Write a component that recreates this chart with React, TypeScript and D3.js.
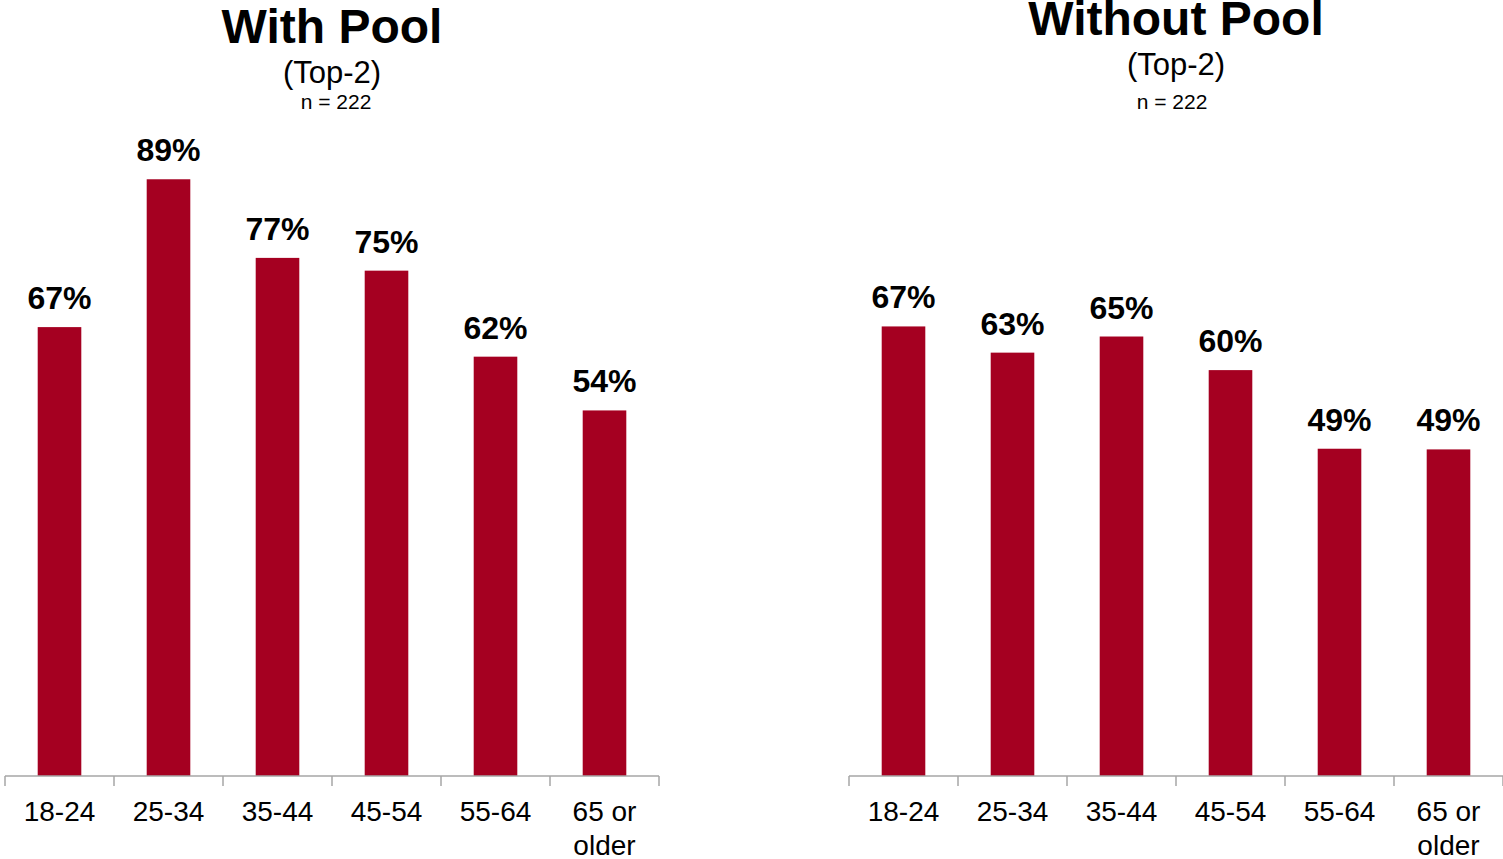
import React from "react";
import * as d3 from "d3";

const categories: string[] = ["18-24", "25-34", "35-44", "45-54", "55-64", "65 or older"];
const withPoolValues: number[] = [66.8, 88.8, 77.1, 75.2, 62.4, 54.4];
const withoutPoolValues: number[] = [66.9, 63.0, 65.4, 60.4, 48.7, 48.6];
const panelTitles: string[] = ["With Pool", "Without Pool"];
const subtitle = "(Top-2)";
const sampleNote = "n = 222";

const W = 1503;
const H = 859;
const FONT = "'Liberation Sans', Arial, Helvetica, sans-serif";
const BAR = "#a50021";
const AXIS = "#a6a6a6";

const y = d3.scaleLinear().domain([0, 100]).range([776, 104]);

type PanelProps = {
  x0: number;
  x1: number;
  values: number[];
  title: string;
  titleY: number;
  subY: number;
  nY: number;
  nShift: number;
};

function Panel({ x0, x1, values, title, titleY, subY, nY, nShift }: PanelProps) {
  const x = d3.scaleBand<string>().domain(categories).range([x0, x1]).padding(0);
  const bw = x.bandwidth();
  const cx = (x0 + x1) / 2;
  const boundaries = categories.map((c) => x(c) as number).concat([x1]);
  return (
    <g>
      <text x={cx} y={titleY} textAnchor="middle" fontFamily={FONT} fontWeight="bold" fontSize={48} fill="#000">
        {title}
      </text>
      <text x={cx} y={subY} textAnchor="middle" fontFamily={FONT} fontSize={31} fill="#000">
        {subtitle}
      </text>
      <text x={cx + nShift} y={nY} textAnchor="middle" fontFamily={FONT} fontSize={21} fill="#000">
        {sampleNote}
      </text>
      {categories.map((c, i) => {
        const bx = (x(c) as number) + bw * 0.3;
        const top = y(values[i]);
        return (
          <g key={c}>
            <rect x={bx} y={top} width={bw * 0.4} height={y(0) - top} fill={BAR} />
            <text
              x={(x(c) as number) + bw / 2}
              y={top - 18}
              textAnchor="middle"
              fontFamily={FONT}
              fontWeight="bold"
              fontSize={32}
              fill="#000"
            >
              {`${Math.round(values[i])}%`}
            </text>
          </g>
        );
      })}
      <line x1={x0} x2={x1} y1={y(0)} y2={y(0)} stroke={AXIS} strokeWidth={1.5} />
      {boundaries.map((bx, i) => (
        <line key={i} x1={bx} x2={bx} y1={y(0)} y2={y(0) + 10} stroke={AXIS} strokeWidth={1.5} />
      ))}
      {categories.map((c) => {
        const words = c === "65 or older" ? ["65 or", "older"] : [c];
        return (
          <text
            key={c}
            x={(x(c) as number) + bw / 2}
            y={821}
            textAnchor="middle"
            fontFamily={FONT}
            fontSize={28}
            fill="#000"
          >
            {words.map((w, k) => (
              <tspan key={k} x={(x(c) as number) + bw / 2} dy={k === 0 ? 0 : 34}>
                {w}
              </tspan>
            ))}
          </text>
        );
      })}
    </g>
  );
}

export default function App() {
  return (
    <svg
      width={W}
      height={H}
      viewBox={`0 0 ${W} ${H}`}
      style={{ position: "absolute", left: 0, top: 0, background: "#fff" }}
    >
      <rect x={0} y={0} width={W} height={H} fill="#fff" />
      <Panel x0={5} x1={659} values={withPoolValues} title={panelTitles[0]} titleY={43} subY={83} nY={109} nShift={4} />
      <Panel x0={849} x1={1503} values={withoutPoolValues} title={panelTitles[1]} titleY={35} subY={75} nY={109} nShift={-4} />
    </svg>
  );
}
